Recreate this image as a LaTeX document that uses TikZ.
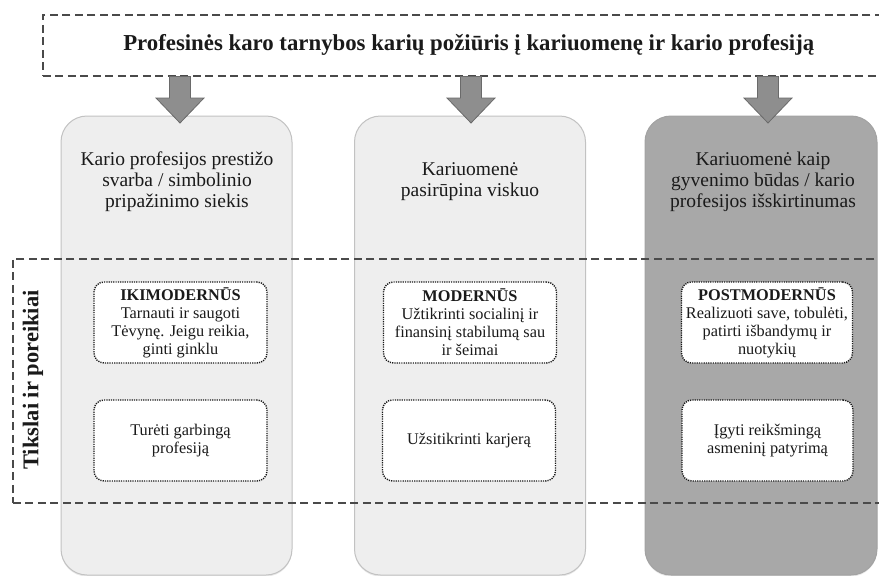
\documentclass[tikz,border=0pt]{standalone}
\usepackage{fontspec}
\setmainfont{Liberation Serif}
\usetikzlibrary{calc,shadows}
\definecolor{colLight}{HTML}{EEEEEE}
\definecolor{colLightBorder}{HTML}{C2C2C2}
\definecolor{colDark}{HTML}{A8A8A8}
\definecolor{colDarkBorder}{HTML}{A2A2A2}
\definecolor{arrowFill}{HTML}{8E8E8E}
\definecolor{arrowLine}{HTML}{6A6A6A}
\definecolor{dashLine}{HTML}{4A4A4A}
\definecolor{textCol}{HTML}{1A1A1A}
\begin{document}
\begin{tikzpicture}[x=1pt,y=-1pt,
  colbox/.style={draw=colLightBorder, fill=colLight, line width=1pt, rounded corners=26pt,
    minimum width=231pt, minimum height=459pt, inner sep=0pt,
    drop shadow={opacity=0.18, shadow xshift=0pt, shadow yshift=-1.5pt}},
  coldark/.style={colbox, draw=colDarkBorder, fill=colDark},
  headtext/.style={align=center, text=textCol, font=\fontsize{19.5}{21}\selectfont},
  inbox/.style={draw=black!90, fill=white, line width=1.4pt, dash pattern=on 1.2pt off 1.1pt,
    rounded corners=10pt, minimum width=173pt, minimum height=81pt, inner sep=0.5pt,
    align=center, text=textCol, font=\fontsize{16.3}{18}\selectfont},
  dashbox/.style={draw=dashLine, line width=1.5pt, dash pattern=on 8pt off 4.5pt, inner sep=0pt},
  blockarrow/.style={fill=arrowFill, draw=arrowLine, line width=0.8pt, line join=miter}
]
\useasboundingbox (0,0) rectangle (879,576);
\clip (0,0) rectangle (879,576);
\fill[white] (0,0) rectangle (879,576);

% columns
\node[colbox] (c1) at (176.5,345.5) {};
\node[colbox] (c2) at (470,345.5) {};
\node[coldark, minimum width=232pt] (c3) at (761,345.5) {};

% column headings
\node[headtext] (h1) at (177,181.5) {Kario profesijos prestižo\\svarba / simbolinio\\pripažinimo siekis};
\node[headtext] (h2) at (470,181.5) {Kariuomenė\\pasirūpina viskuo};
\node[headtext] (h3) at (763,181.5) {Kariuomenė kaip\\gyvenimo būdas / kario\\profesijos išskirtinumas};

% goals dashed frame
\node[dashbox, anchor=north west, minimum width=890pt, minimum height=244pt] (goals) at (12,258) {};
\node[rotate=90, text=textCol, font=\bfseries\fontsize{22.5}{24}\selectfont] (vlab) at (33,380) {Tikslai ir poreikiai};

% inner boxes
\node[inbox] (i1a) at (180.5,322.5) {\textbf{IKIMODERNŪS}\\Tarnauti ir saugoti\\Tėvynę. Jeigu reikia,\\ginti ginklu};
\node[inbox] (i1b) at (180.5,440.5) {Turėti garbingą\\profesiją};
\node[inbox] (i2a) at (470,322.5) {\textbf{MODERNŪS}\\Užtikrinti socialinį ir\\finansinį stabilumą sau\\ir šeimai};
\node[inbox] (i2b) at (469,440.5) {Užsitikrinti karjerą};
\node[inbox, minimum width=171pt] (i3a) at (767,322.5) {\textbf{POSTMODERNŪS}\\Realizuoti save, tobulėti,\\patirti išbandymų ir\\nuotykių};
\node[inbox, minimum width=171pt] (i3b) at (767.5,440.5) {Įgyti reikšmingą\\asmeninį patyrimą};

% title dashed frame
\node[dashbox, anchor=north west, minimum width=852pt, minimum height=61pt,
  text=textCol, font=\bfseries\fontsize{22.8}{24}\selectfont] (title) at (42,14)
  {Profesinės karo tarnybos karių požiūris į kariuomenę ir kario profesiją};

% block arrows
\foreach \ax/\col in {180/c1, 471/c2, 768/c3}{
  \coordinate (s) at (title.south -| \ax,0);
  \coordinate (t) at (\ax,123);
  \draw[blockarrow] ($(s)+(-10.5,0)$) -- ($(s)+(10.5,0)$) -- ($(t)+(10.5,-25)$) -- ($(t)+(24,-25)$)
    -- (t) -- ($(t)+(-24,-25)$) -- ($(t)+(-10.5,-25)$) -- cycle;
}
\end{tikzpicture}
\end{document}
